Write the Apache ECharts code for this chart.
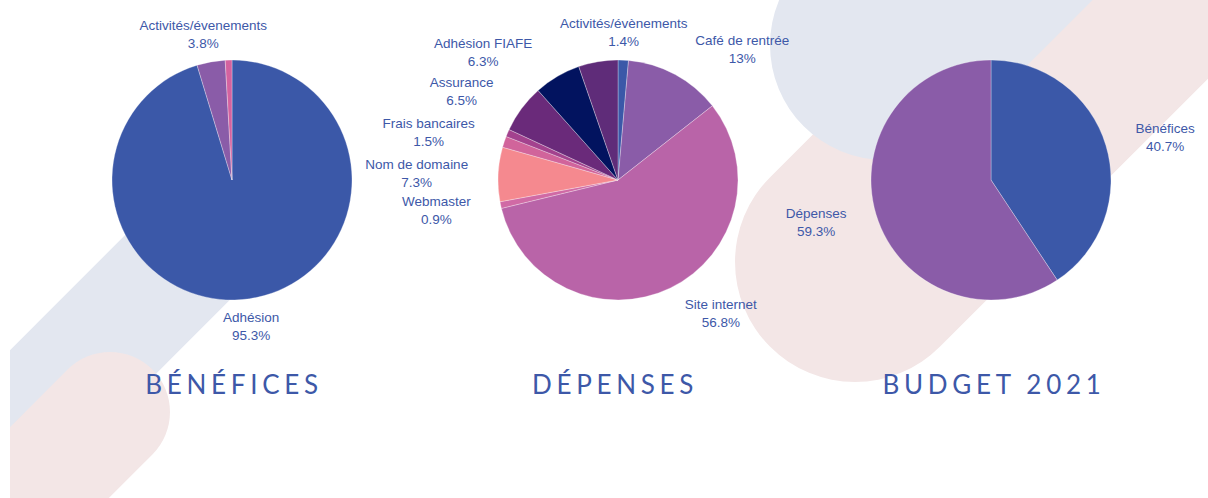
<!DOCTYPE html>
<html>
<head>
<meta charset="utf-8">
<script src="https://cdn.jsdelivr.net/npm/echarts@6/dist/echarts.min.js"></script>
<style>
html,body{margin:0;padding:0;background:#ffffff;}
#chart{width:1208px;height:498px;}
#chart text[style*="Lato"], #chart text[font-family*="Lato"]{letter-spacing:4.7px;}
</style>
</head>
<body>
<div id="chart"></div>
<script>
// ---------- data ----------
const beneficesNames = ['Adhésion', 'Activités/évenements', 'Autres'];
const beneficesValues = [95.3, 3.8, 0.9];
const depensesNames = ['Activités/évènements', 'Café de rentrée', 'Site internet', 'Webmaster', 'Nom de domaine', 'Frais bancaires', 'Divers', 'Assurance', 'Adhésion FIAFE', 'Autres'];
const depensesValues = [1.4, 13, 56.8, 0.9, 7.3, 1.5, 1.0, 6.5, 6.3, 5.3];
const budgetNames = ['Bénéfices', 'Dépenses'];
const budgetValues = [40.7, 59.3];
const titles = ['BÉNÉFICES', 'DÉPENSES', 'BUDGET 2021'];
// slices whose label is not shown in the reference
const hiddenLabels = [['Autres'], ['Divers', 'Autres'], []];

// ---------- styles ----------
const colors = [
  ['#3b58a8', '#8a5ca8', '#d4629f'],
  ['#3b58a8', '#8a5ca8', '#b964a8', '#d06aa5', '#f5898f', '#d1649b', '#a3428e', '#6a2a7a', '#02135f', '#5f2c79'],
  ['#3b58a8', '#8a5ca8']
];
const pieLayout = [
  {cx: 232, cy: 180, r: 120},
  {cx: 618, cy: 180, r: 120},
  {cx: 991, cy: 180, r: 120}
];
const titleX = [234, 615, 994];
const titleY = 384;
const titleFontSize = 26;
const textColor = '#3d58a8';
const labelFontSize = 13.5;
const labelLineHeight = 18;
const labelFamily = '"Liberation Sans", Arial, sans-serif';

// ---------- label placement (computed from the data) ----------
const measureCtx = document.createElement('canvas').getContext('2d');
measureCtx.font = labelFontSize + 'px ' + labelFamily;
function labelText(name, value) { return name + '\n' + value + '%'; }

function computeLabels(names, values, hidden, geo) {
  const total = values.reduce((a, b) => a + b, 0);
  let acc = 0;
  const items = [];
  values.forEach((v, i) => {
    const mid = (acc + v / 2) / total * Math.PI * 2;
    acc += v;
    if (hidden.indexOf(names[i]) >= 0) return;
    const dx = Math.sin(mid), dy = -Math.cos(mid);
    const lines = labelText(names[i], v).split('\n');
    const w = Math.max(...lines.map(l => measureCtx.measureText(l).width));
    const h = labelLineHeight * lines.length;
    const side = Math.min(1, Math.max(0, (Math.abs(dx) - 0.15) / 0.35));
    items.push({
      i, dx, dy, w, h,
      x: geo.cx + dx * (geo.r + 10) + Math.sign(dx) * side * (w / 2 + 20),
      y: geo.cy + dy * (geo.r + 10 + h / 2)
    });
  });
  // resolve overlaps: most vertical labels keep their place, others slide sideways
  items.sort((a, b) => Math.abs(b.dy) - Math.abs(a.dy));
  const placed = [];
  items.forEach(it => {
    const dir = it.dx >= 0 ? 1 : -1;
    for (let k = 0; k < 30; k++) {
      const hit = placed.find(p =>
        Math.abs(p.x - it.x) < (p.w + it.w) / 2 + 2 &&
        Math.abs(p.y - it.y) < (p.h + it.h) / 2);
      if (!hit) break;
      if (dir > 0) it.x = hit.x + hit.w / 2 + it.w / 2 + 3;
      else it.x = hit.x - hit.w / 2 - it.w / 2 - 3;
    }
    placed.push(it);
  });
  const out = {};
  items.forEach(it => { out[it.i] = {x: it.x, y: it.y}; });
  return out;
}

const allNames = [beneficesNames, depensesNames, budgetNames];
const allValues = [beneficesValues, depensesValues, budgetValues];
const labelPos = allValues.map((vals, s) => computeLabels(allNames[s], vals, hiddenLabels[s], pieLayout[s]));

function makeSeries(s) {
  return {
    type: 'pie',
    z: 5,
    silent: true,
    center: [pieLayout[s].cx, pieLayout[s].cy],
    radius: pieLayout[s].r,
    startAngle: 90,
    clockwise: true,
    avoidLabelOverlap: false,
    itemStyle: {borderColor: 'rgba(255,255,255,0.6)', borderWidth: 0.5},
    label: {
      show: true,
      position: 'outside',
      formatter: p => labelText(p.name, p.value),
      color: textColor,
      fontSize: labelFontSize,
      fontFamily: labelFamily,
      lineHeight: labelLineHeight,
      align: 'center'
    },
    labelLine: {show: false},
    labelLayout: function (params) {
      const p = labelPos[s][params.dataIndex];
      if (!p) return {};
      return {x: p.x, y: p.y, align: 'center', verticalAlign: 'middle'};
    },
    data: allNames[s].map((n, i) => ({
      name: n,
      value: allValues[s][i],
      itemStyle: {color: colors[s][i]},
      label: {show: hiddenLabels[s].indexOf(n) < 0}
    }))
  };
}

// ---------- decorative background capsules ----------
function capsule(x, y, r, len, rotation, fill) {
  return {
    type: 'rect', x: x, y: y, rotation: rotation, silent: true, z: 0,
    shape: {x: -r, y: -r, width: len + 2 * r, height: 2 * r, r: r},
    style: {fill: fill}
  };
}
const grayBg = '#e3e7f0';
const pinkBg = '#f3e6e6';
const bgElements = [
  capsule(855, 262, 120, 800, Math.PI / 4, pinkBg),
  capsule(885, 45, 115, 700, Math.PI / 4, grayBg),
  capsule(250, 195, 60, 500, Math.PI * 5 / 4, grayBg),
  capsule(110, 412, 60, 300, Math.PI * 5 / 4, pinkBg),
  {type: 'rect', x: 0, y: 0, z: 1, silent: true, shape: {x: 0, y: 0, width: 10, height: 498}, style: {fill: '#ffffff'}}
];
const titleElements = titles.map((t, i) => ({
  type: 'text', x: titleX[i], y: titleY, z: 10, silent: true,
  style: {
    text: t, align: 'center', verticalAlign: 'middle',
    fill: textColor, fontSize: titleFontSize, fontFamily: 'Lato', fontWeight: 400
  }
}));

const chart = echarts.init(document.getElementById('chart'), null, {renderer: 'svg'});
chart.setOption({
  animation: false,
  backgroundColor: '#ffffff',
  graphic: {elements: bgElements.concat(titleElements)},
  series: [makeSeries(0), makeSeries(1), makeSeries(2)]
});
</script>
</body>
</html>
